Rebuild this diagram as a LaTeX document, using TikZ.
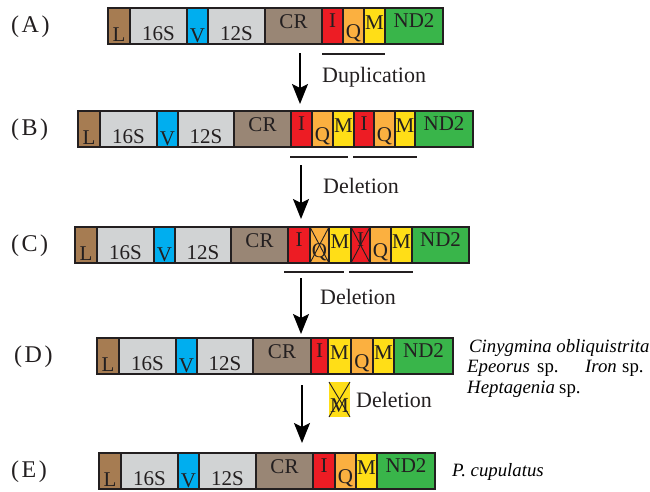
\documentclass[tikz,border=0pt]{standalone}
\usepackage{fontspec}
\setmainfont{Liberation Serif}
\usetikzlibrary{arrows.meta}

\definecolor{ink}{HTML}{231F20}
\definecolor{cL}{HTML}{A67C52}
\definecolor{cS}{HTML}{D1D3D4}
\definecolor{cV}{HTML}{00AEEF}
\definecolor{cCR}{HTML}{998675}
\definecolor{cI}{HTML}{ED1C24}
\definecolor{cQ}{HTML}{FBB040}
\definecolor{cM}{HTML}{FFDE17}
\definecolor{cN}{HTML}{39B54A}

% one gene block: name, left x, right x, top y, colour, label, label baseline offset
\newcommand\gene[7]{%
  \node[cell, fill=#5, minimum width={(#3-#2)*1pt}] (#1) at ({(#2+#3)/2},{#4+18}) {};
  \node[gtxt] (#1t) at ({(#2+#3)/2},{#4+#7}) {#6};
}

\tikzset{
  cell/.style={draw=ink, line width=1.4pt, minimum height=36pt, inner sep=0pt, outer sep=0pt},
  gtxt/.style={anchor=base, inner sep=0pt, text=ink, font=\fontsize{21}{23}\selectfont},
  rowlabel/.style={anchor=base west, inner sep=0pt, text=ink, font=\fontsize{24}{26}\selectfont},
  eventlabel/.style={anchor=base west, inner sep=0pt, text=ink, font=\fontsize{22}{24}\selectfont},
  species/.style={anchor=base west, inner sep=0pt, text=black, font=\fontsize{18.8}{20}\selectfont},
  arr/.style={line width=1.6pt, -{Stealth[length=20pt, width=16pt, inset=4pt]}},
  bar/.style={line width=1.2pt, draw=ink},
  xline/.style={line width=0.9pt, draw=ink},
}

\newcommand\rowtag[1]{(\kern2.5pt #1\kern2.5pt)}

\begin{document}
\begin{tikzpicture}[x=1pt, y=-1pt]
\useasboundingbox (0,0) rectangle (650,491);

% ---------- (A) ----------
\node[rowlabel] (tagA) at (11,32) {\rowtag{A}};
\gene{aL}{108}{130}{8}{cL}{L}{33}
\gene{a16}{130}{187}{8}{cS}{16S}{32}
\gene{aV}{187}{208}{8}{cV}{V}{34}
\gene{a12}{208}{265}{8}{cS}{12S}{32}
\gene{aCR}{265}{322}{8}{cCR}{CR}{20}
\gene{aI}{322}{343}{8}{cI}{I}{19}
\gene{aQ}{343}{364}{8}{cQ}{Q}{30}
\gene{aM}{364}{385}{8}{cM}{M}{21}
\gene{aN}{385}{443}{8}{cN}{ND2}{19}

\coordinate (dupL) at (322,54);
\coordinate (dupR) at (385,54);
\draw[bar] (dupL) -- (dupR);
\node[eventlabel] (dup) at (322,82) {Duplication};

\coordinate (ab1) at (300,53);
\coordinate (ab2) at (300,104);
\draw[arr] (ab1) -- (ab2);

% ---------- (B) ----------
\node[rowlabel] (tagB) at (11,135) {\rowtag{B}};
\gene{bL}{78}{100}{111}{cL}{L}{33}
\gene{b16}{100}{157}{111}{cS}{16S}{32}
\gene{bV}{157}{178}{111}{cV}{V}{34}
\gene{b12}{178}{234}{111}{cS}{12S}{32}
\gene{bCR}{234}{291}{111}{cCR}{CR}{20}
\gene{bI}{291}{312}{111}{cI}{I}{19}
\gene{bQ}{312}{333}{111}{cQ}{Q}{30}
\gene{bM}{333}{354}{111}{cM}{M}{21}
\gene{bIb}{354}{374}{111}{cI}{I}{19}
\gene{bQb}{374}{395}{111}{cQ}{Q}{30}
\gene{bMb}{395}{415}{111}{cM}{M}{21}
\gene{bN}{415}{473}{111}{cN}{ND2}{19}

\coordinate (bu1) at (290,157);
\coordinate (bu2) at (348,157);
\coordinate (bu3) at (353,157);
\coordinate (bu4) at (417,157);
\draw[bar] (bu1) -- (bu2);
\draw[bar] (bu3) -- (bu4);
\node[eventlabel] (del1) at (323,193) {Deletion};

\coordinate (bc1) at (301,165);
\coordinate (bc2) at (301,219);
\draw[arr] (bc1) -- (bc2);

% ---------- (C) ----------
\node[rowlabel] (tagC) at (11,251) {\rowtag{C}};
\gene{cL}{75}{97}{227}{cL}{L}{33}
\gene{c16}{97}{154}{227}{cS}{16S}{32}
\gene{cV}{154}{175}{227}{cV}{V}{34}
\gene{c12}{175}{231}{227}{cS}{12S}{32}
\gene{cCR}{231}{288}{227}{cCR}{CR}{20}
\gene{cI}{288}{310}{227}{cI}{I}{19}
\gene{cQ}{310}{329}{227}{cQ}{Q}{30}
\gene{cM}{329}{351}{227}{cM}{M}{21}
\gene{cIb}{351}{370}{227}{cI}{I}{19}
\gene{cQb}{370}{391}{227}{cQ}{Q}{30}
\gene{cMb}{391}{412}{227}{cM}{M}{21}
\gene{cN}{412}{469}{227}{cN}{ND2}{19}

% lost genes struck through
\draw[xline] (cQ.north west) -- (cQ.south east);
\draw[xline] (cQ.north east) -- (cQ.south west);
\draw[xline] (cIb.north west) -- (cIb.south east);
\draw[xline] (cIb.north east) -- (cIb.south west);

\coordinate (cu1) at (284,272);
\coordinate (cu2) at (344,272);
\coordinate (cu3) at (349,272);
\coordinate (cu4) at (413,272);
\draw[bar] (cu1) -- (cu2);
\draw[bar] (cu3) -- (cu4);
\node[eventlabel] (del2) at (320,304) {Deletion};

\coordinate (cd1) at (301,278);
\coordinate (cd2) at (301,334);
\draw[arr] (cd1) -- (cd2);

% ---------- (D) ----------
\node[rowlabel] (tagD) at (14,362) {\rowtag{D}};
\gene{dL}{97}{119}{338}{cL}{L}{33}
\gene{d16}{119}{176}{338}{cS}{16S}{32}
\gene{dV}{176}{197}{338}{cV}{V}{34}
\gene{d12}{197}{253}{338}{cS}{12S}{32}
\gene{dCR}{253}{311}{338}{cCR}{CR}{20}
\gene{dI}{311}{328}{338}{cI}{I}{19}
\gene{dM}{328}{351}{338}{cM}{M}{21}
\gene{dQ}{351}{373}{338}{cQ}{Q}{30}
\gene{dMb}{373}{394}{338}{cM}{M}{21}
\gene{dN}{394}{453}{338}{cN}{ND2}{19}

\node[species] (sp1) at (469,352) {\itshape Cinygmina obliquistrita};
\node[species] (sp2) at (467,372) {\itshape Epeorus};
\node[species] (sp2b) at (537,372) {sp.};
\node[species] (sp3) at (585,372) {\itshape Iron};
\node[species] (sp3b) at (622,372) {sp.};
\node[species] (sp4) at (467,393) {\itshape Heptagenia};
\node[species] (sp4b) at (559,393) {sp.};

% deleted M
\node[fill=cM, minimum width=21pt, minimum height=35pt, inner sep=0pt, outer sep=0pt] (dx) at (339.5,399.5) {};
\node[gtxt] (dxt) at (339.5,412) {M};
\draw[xline] (dx.north west) -- (dx.south east);
\draw[xline] (dx.north east) -- (dx.south west);
\node[eventlabel] (del3) at (356,407) {Deletion};

\coordinate (de1) at (302,385);
\coordinate (de2) at (302,443);
\draw[arr] (de1) -- (de2);

% ---------- (E) ----------
\node[rowlabel] (tagE) at (11,477) {\rowtag{E}};
\gene{eL}{99}{121}{453}{cL}{L}{33}
\gene{e16}{121}{178}{453}{cS}{16S}{32}
\gene{eV}{178}{199}{453}{cV}{V}{34}
\gene{e12}{199}{256}{453}{cS}{12S}{32}
\gene{eCR}{256}{313}{453}{cCR}{CR}{20}
\gene{eI}{313}{335}{453}{cI}{I}{19}
\gene{eQ}{335}{356}{453}{cQ}{Q}{30}
\gene{eM}{356}{377}{453}{cM}{M}{21}
\gene{eN}{377}{435}{453}{cN}{ND2}{19}

\node[species] (sp5) at (452,476) {\itshape P. cupulatus};
\end{tikzpicture}
\end{document}
